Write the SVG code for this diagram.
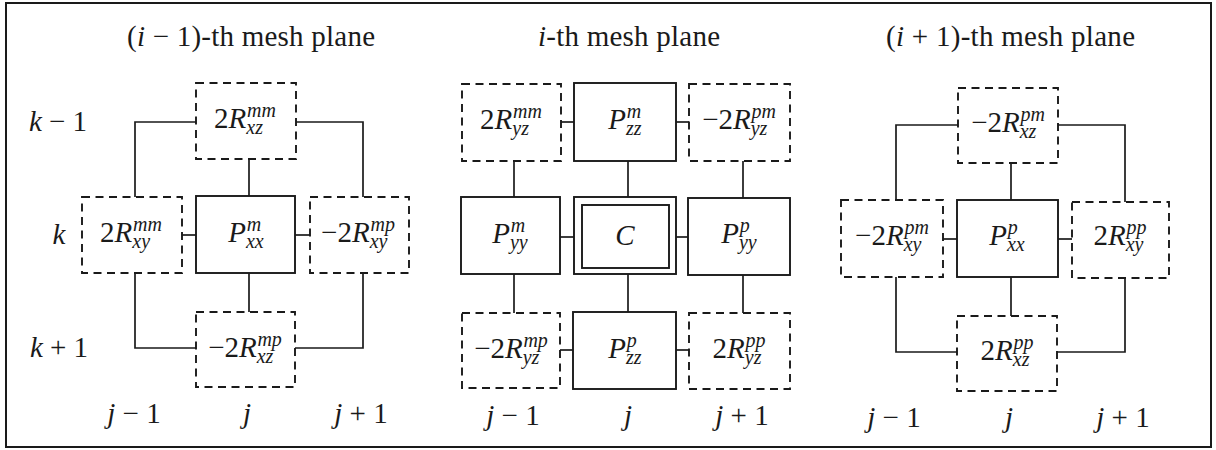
<svg xmlns="http://www.w3.org/2000/svg" width="1216" height="450" viewBox="0 0 1216 450">
<style>
  text { font-family: "Liberation Serif", "DejaVu Serif", serif; fill: #1a1a1a; }
  .t { font-size: 29px; }
  .lab { font-size: 29px; text-anchor: middle; }
  .it { font-style: italic; }
  .s { font-size: 20px; font-style: italic; }
  .dash { fill: none; stroke: #1a1a1a; stroke-width: 1.9; stroke-dasharray: 8 5.5; }
  .solid { fill: none; stroke: #1a1a1a; stroke-width: 1.9; }
  .conn path { fill: none; stroke: #1a1a1a; stroke-width: 1.7; }
  .frame { fill: none; stroke: #1a1a1a; stroke-width: 2; }
</style>
<rect width="1216" height="450" fill="#ffffff"/>
<rect class="frame" x="6" y="3" width="1205" height="444"/>

<!-- titles -->
<g id="titles">
  <text class="t" x="127" y="46" textLength="248">(<tspan class="it">i</tspan> − 1)-th mesh plane</text>
  <text class="t" x="538" y="46" textLength="182"><tspan class="it">i</tspan>-th mesh plane</text>
  <text class="t" x="886" y="46" textLength="249">(<tspan class="it">i</tspan> + 1)-th mesh plane</text>
</g>

<!-- row / column labels -->
<g id="axis-labels">
  <text class="lab" x="58" y="131"><tspan class="it">k</tspan> − 1</text>
  <text class="lab" x="59" y="244"><tspan class="it">k</tspan></text>
  <text class="lab" x="59" y="357"><tspan class="it">k</tspan> + 1</text>
  <text class="lab" x="134" y="423"><tspan class="it">j</tspan> − 1</text>
  <text class="lab" x="247" y="423"><tspan class="it">j</tspan></text>
  <text class="lab" x="361" y="423"><tspan class="it">j</tspan> + 1</text>
  <text class="lab" x="513" y="425"><tspan class="it">j</tspan> − 1</text>
  <text class="lab" x="628" y="425"><tspan class="it">j</tspan></text>
  <text class="lab" x="742" y="425"><tspan class="it">j</tspan> + 1</text>
  <text class="lab" x="894" y="427"><tspan class="it">j</tspan> − 1</text>
  <text class="lab" x="1009" y="427"><tspan class="it">j</tspan></text>
  <text class="lab" x="1123" y="427"><tspan class="it">j</tspan> + 1</text>
</g>

<!-- connectors -->
<g id="connectors" class="conn">
  <!-- left panel -->
  <path d="M135,197 V122 H196"/>
  <path d="M296,122 H363 V197"/>
  <path d="M249,159 V196"/>
  <path d="M182,235 H196"/>
  <path d="M295,235 H310"/>
  <path d="M249,273 V312"/>
  <path d="M135,273 V348 H196"/>
  <path d="M295,348 H363 V273"/>
  <!-- middle panel -->
  <path d="M561,122 H574"/>
  <path d="M676,122 H689"/>
  <path d="M560,237 H574"/>
  <path d="M676,237 H688"/>
  <path d="M560,350 H573"/>
  <path d="M676,350 H689"/>
  <path d="M514,161 V197"/>
  <path d="M514,274 V313"/>
  <path d="M628,161 V197"/>
  <path d="M628,274 V312"/>
  <path d="M743,161 V198"/>
  <path d="M743,275 V313"/>
  <!-- right panel -->
  <path d="M896,200 V125 H958"/>
  <path d="M1058,125 H1125 V202"/>
  <path d="M1011,163 V200"/>
  <path d="M943,239 H957"/>
  <path d="M1058,239 H1072"/>
  <path d="M1011,277 V316"/>
  <path d="M896,277 V352 H957"/>
  <path d="M1057,352 H1125 V278"/>
</g>

<!-- left panel nodes -->
<g id="L-top">
  <rect class="dash" x="196" y="83" width="100" height="76"/>
  <text class="lab" x="245" y="128">2<tspan class="it">R</tspan><tspan class="s" dy="6">xz</tspan><tspan class="s" dx="-16" dy="-17">mm</tspan></text>
</g>
<g id="L-mid-left">
  <rect class="dash" x="82" y="197" width="100" height="76"/>
  <text class="lab" x="131" y="242">2<tspan class="it">R</tspan><tspan class="s" dy="6">xy</tspan><tspan class="s" dx="-17" dy="-17">mm</tspan></text>
</g>
<g id="L-mid-center">
  <rect class="solid" x="196" y="196" width="99" height="77"/>
  <text class="lab" x="246" y="242"><tspan class="it">P</tspan><tspan class="s" dy="6">xx</tspan><tspan class="s" dx="-17" dy="-17">m</tspan></text>
</g>
<g id="L-mid-right">
  <rect class="dash" x="310" y="197" width="99" height="76"/>
  <text class="lab" x="358" y="242">−2<tspan class="it">R</tspan><tspan class="s" dy="6">xy</tspan><tspan class="s" dx="-17" dy="-17">mp</tspan></text>
</g>
<g id="L-bottom">
  <rect class="dash" x="196" y="312" width="99" height="75"/>
  <text class="lab" x="245" y="357">−2<tspan class="it">R</tspan><tspan class="s" dy="6">xz</tspan><tspan class="s" dx="-16" dy="-17">mp</tspan></text>
</g>

<!-- middle panel nodes -->
<g id="M-top-left">
  <rect class="dash" x="462" y="84" width="99" height="77"/>
  <text class="lab" x="511" y="129">2<tspan class="it">R</tspan><tspan class="s" dy="6">yz</tspan><tspan class="s" dx="-16" dy="-17">mm</tspan></text>
</g>
<g id="M-top-center">
  <rect class="solid" x="574" y="83" width="102" height="78"/>
  <text class="lab" x="625" y="129"><tspan class="it">P</tspan><tspan class="s" dy="6">zz</tspan><tspan class="s" dx="-15" dy="-17">m</tspan></text>
</g>
<g id="M-top-right">
  <rect class="dash" x="689" y="84" width="101" height="77"/>
  <text class="lab" x="739" y="129">−2<tspan class="it">R</tspan><tspan class="s" dy="6">yz</tspan><tspan class="s" dx="-16" dy="-17">pm</tspan></text>
</g>
<g id="M-mid-left">
  <rect class="solid" x="461" y="197" width="99" height="77"/>
  <text class="lab" x="510" y="243"><tspan class="it">P</tspan><tspan class="s" dy="6">yy</tspan><tspan class="s" dx="-17" dy="-17">m</tspan></text>
</g>
<g id="M-center">
  <rect class="solid" x="574" y="197" width="102" height="77"/>
  <rect class="solid" x="582" y="205" width="87" height="63"/>
  <text class="lab it" x="625" y="245">C</text>
</g>
<g id="M-mid-right">
  <rect class="solid" x="688" y="198" width="102" height="77"/>
  <text class="lab" x="739" y="243"><tspan class="it">P</tspan><tspan class="s" dy="6">yy</tspan><tspan class="s" dx="-17" dy="-17">p</tspan></text>
</g>
<g id="M-bottom-left">
  <rect class="dash" x="462" y="313" width="98" height="75"/>
  <text class="lab" x="511" y="358">−2<tspan class="it">R</tspan><tspan class="s" dy="6">yz</tspan><tspan class="s" dx="-16" dy="-17">mp</tspan></text>
</g>
<g id="M-bottom-center">
  <rect class="solid" x="573" y="312" width="103" height="77"/>
  <text class="lab" x="625" y="358"><tspan class="it">P</tspan><tspan class="s" dy="6">zz</tspan><tspan class="s" dx="-15" dy="-17">p</tspan></text>
</g>
<g id="M-bottom-right">
  <rect class="dash" x="689" y="313" width="101" height="76"/>
  <text class="lab" x="739" y="358">2<tspan class="it">R</tspan><tspan class="s" dy="6">yz</tspan><tspan class="s" dx="-16" dy="-17">pp</tspan></text>
</g>

<!-- right panel nodes -->
<g id="R-top">
  <rect class="dash" x="958" y="88" width="100" height="75"/>
  <text class="lab" x="1008" y="132">−2<tspan class="it">R</tspan><tspan class="s" dy="6">xz</tspan><tspan class="s" dx="-16" dy="-17">pm</tspan></text>
</g>
<g id="R-mid-left">
  <rect class="dash" x="841" y="200" width="102" height="77"/>
  <text class="lab" x="892" y="245">−2<tspan class="it">R</tspan><tspan class="s" dy="6">xy</tspan><tspan class="s" dx="-17" dy="-17">pm</tspan></text>
</g>
<g id="R-mid-center">
  <rect class="solid" x="957" y="200" width="101" height="77"/>
  <text class="lab" x="1007" y="245"><tspan class="it">P</tspan><tspan class="s" dy="6">xx</tspan><tspan class="s" dx="-17" dy="-17">p</tspan></text>
</g>
<g id="R-mid-right">
  <rect class="dash" x="1072" y="202" width="97" height="76"/>
  <text class="lab" x="1120" y="245">2<tspan class="it">R</tspan><tspan class="s" dy="6">xy</tspan><tspan class="s" dx="-17" dy="-17">pp</tspan></text>
</g>
<g id="R-bottom">
  <rect class="dash" x="957" y="316" width="100" height="75"/>
  <text class="lab" x="1007" y="360">2<tspan class="it">R</tspan><tspan class="s" dy="6">xz</tspan><tspan class="s" dx="-16" dy="-17">pp</tspan></text>
</g>
</svg>
